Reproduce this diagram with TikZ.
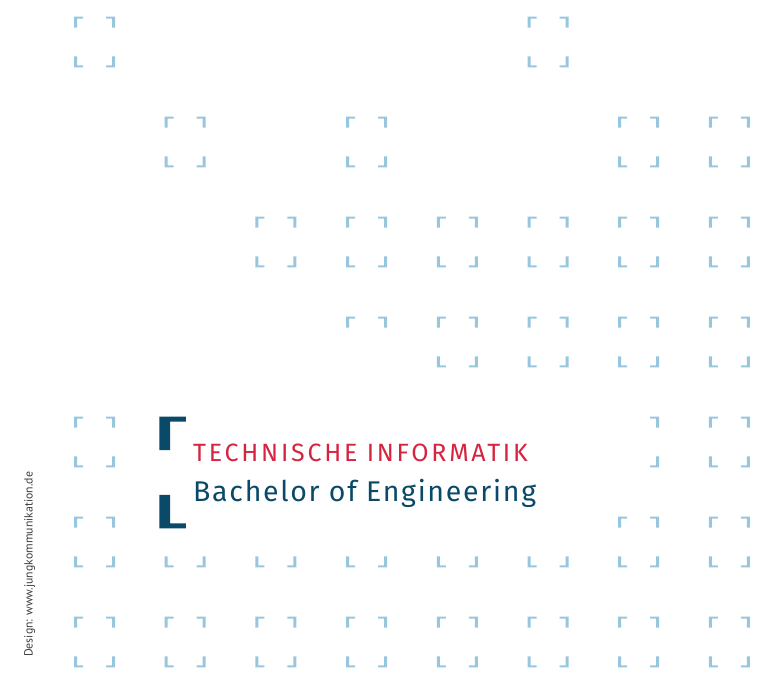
\documentclass[tikz,border=0pt]{standalone}
\usepackage{fontspec}
\setmainfont{PT Sans}
\newfontfamily\titlefont[LetterSpace=11]{Fira Sans}
\newfontfamily\degreefont[LetterSpace=6]{Fira Sans}
\usepackage{xcolor}
\definecolor{markblue}{RGB}{152,198,222}
\definecolor{titlered}{RGB}{214,36,64}
\definecolor{titleblue}{RGB}{10,74,104}
\definecolor{creditgrey}{RGB}{60,60,60}

\tikzset{
  corner/.pic={\fill (0,0) -- (9,0) -- (9,2) -- (3,2) -- (3,11) -- (0,11) -- cycle;},
  bigcorner/.pic={\fill (0,0) -- (26.5,0) -- (26.5,5) -- (10.7,5) -- (10.7,33.5) -- (0,33.5) -- cycle;}
}
% corner marks of one cell: column, row
\newcommand{\markstop}[2]{%
  \pic[markblue] at ({74+90.7*(#1-1)},{16.7+100*(#2-1)}) {corner};
  \pic[markblue,xscale=-1] at ({115+90.7*(#1-1)},{16.7+100*(#2-1)}) {corner};}
\newcommand{\marksbottom}[2]{%
  \pic[markblue,yscale=-1] at ({74+90.7*(#1-1)},{67.3+100*(#2-1)}) {corner};
  \pic[markblue,scale=-1] at ({115+90.7*(#1-1)},{67.3+100*(#2-1)}) {corner};}
\newcommand{\marksright}[2]{%
  \pic[markblue,xscale=-1] at ({115+90.7*(#1-1)},{16.7+100*(#2-1)}) {corner};
  \pic[markblue,scale=-1] at ({115+90.7*(#1-1)},{67.3+100*(#2-1)}) {corner};}

\begin{document}
\begin{tikzpicture}[x=1pt, y=-1pt,
    title/.style={anchor=base west, inner sep=0pt}
]
\useasboundingbox (0,0) rectangle (764,677);

% full cells
\foreach \c/\r in {1/1,6/1, 2/2,4/2,7/2,8/2, 3/3,4/3,5/3,6/3,7/3,8/3,
    5/4,6/4,7/4,8/4, 1/5,8/5, 1/6,7/6,8/6,
    1/7,2/7,3/7,4/7,5/7,6/7,7/7,8/7}{
  \markstop{\c}{\r}
  \marksbottom{\c}{\r}
}
% half cells
\markstop{4}{4}
\marksright{7}{5}
\foreach \c in {2,...,6}{
  \marksbottom{\c}{6}
}

% big bracket
\pic[titleblue] at (159.3,416.7) {bigcorner};
\pic[titleblue,yscale=-1] at (159.3,528.3) {bigcorner};

\node[title, text=titlered, font=\titlefont\fontsize{25}{28}\selectfont] (title) at (193,461.7) {TECHNISCHE INFORMATIK};
\node[title, text=titleblue, font=\degreefont\fontsize{28.5}{32}\selectfont] (degree) at (193,501.7) {Bachelor of Engineering};

\node[title, rotate=90, text=creditgrey, font=\fontsize{11.8}{13}\selectfont] (credit) at (32.5,657) {Design: www.jungkommunikation.de};
\end{tikzpicture}
\end{document}
